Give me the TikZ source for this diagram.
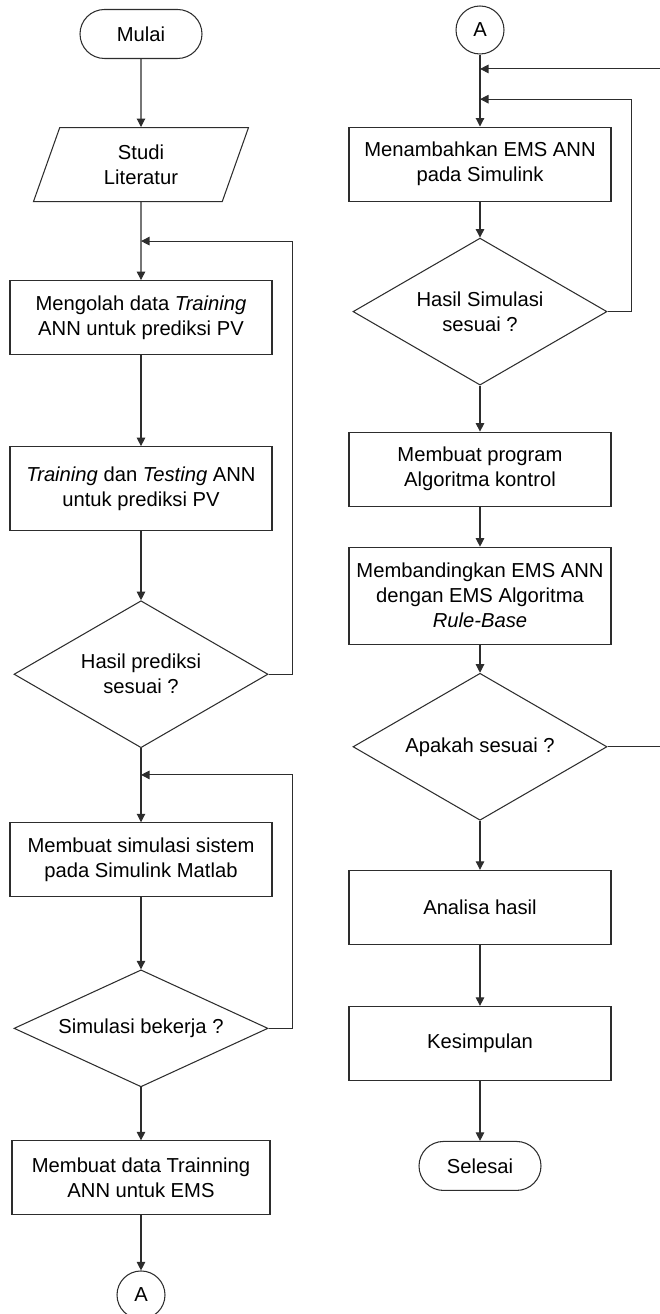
\documentclass[tikz,border=0pt]{standalone}
\usepackage{fontspec}
\setmainfont{Liberation Sans}
\usepackage{tikz}
\usetikzlibrary{shapes.geometric, arrows.meta, positioning, calc}
\definecolor{lineclr}{RGB}{45,45,45}

\begin{document}
\begin{tikzpicture}[
    font=\fontsize{11.5}{14.2}\selectfont,
    proc/.style={draw=lineclr, minimum width=5.24cm, minimum height=1.48cm,
                 align=center, inner sep=2pt},
    term/.style={draw=lineclr, rounded corners=0.49cm, minimum width=2.44cm,
                 minimum height=0.98cm},
    io/.style={draw=lineclr, trapezium, trapezium left angle=63,
               trapezium right angle=117, trapezium stretches body,
               minimum width=4.3cm, minimum height=1.48cm, align=center},
    dec/.style={draw=lineclr, diamond, aspect=1.73, minimum width=5.08cm,
                minimum height=2.94cm, inner sep=0pt, align=center},
    conn/.style={draw=lineclr, circle, minimum size=0.96cm, inner sep=0pt},
    arr/.style={-{Triangle[length=0.17cm, width=0.17cm]}, lineclr},
    line width=0.6pt,
]
    \useasboundingbox (0,0) rectangle (13.18,-26.28);

    % left column
    \node[term] (mulai) at (2.82,-0.68) {Mulai};
    \node[io, below=1.36cm of mulai] (studi) {Studi\\Literatur};
    \node[proc, below=1.56cm of studi] (olah)
        {Mengolah data \textit{Training}\\ANN untuk prediksi PV};
    \node[proc, below=1.82cm of olah, minimum height=1.68cm] (train)
        {\textit{Training} dan \textit{Testing} ANN\\untuk prediksi PV};
    \node[dec, below=1.38cm of train] (predok) {Hasil prediksi\\sesuai ?};
    \node[proc, below=1.48cm of predok] (simsys)
        {Membuat simulasi sistem\\pada Simulink Matlab};
    \node[dec, below=1.44cm of simsys, aspect=2.17, minimum height=2.34cm] (simok)
        {Simulasi bekerja ?};
    \node[proc, below=1.06cm of simok, minimum width=5.16cm] (dataems)
        {Membuat data Trainning\\ANN untuk EMS};
    \node[conn, below=1.1cm of dataems] (conA) {A};

    % right column
    \node[conn] (conB) at (9.6,-0.6) {A};
    \node[proc, below=1.44cm of conB] (addems)
        {Menambahkan EMS ANN\\pada Simulink};
    \node[dec, below=0.72cm of addems] (hasilok) {Hasil Simulasi\\sesuai ?};
    \node[proc, below=0.92cm of hasilok] (prog)
        {Membuat program\\Algoritma kontrol};
    \node[proc, below=0.8cm of prog, minimum height=1.94cm] (banding)
        {Membandingkan EMS ANN\\dengan EMS Algoritma\\\textit{Rule-Base}};
    \node[dec, below=0.56cm of banding] (apakah) {Apakah sesuai ?};
    \node[proc, below=0.98cm of apakah] (analisa) {Analisa hasil};
    \node[proc, below=1.22cm of analisa] (simpul) {Kesimpulan};
    \node[term, below=1.2cm of simpul] (selesai) {Selesai};

    % junctions
    \coordinate (j1) at ($(studi.south)!0.5!(olah.north)$);
    \coordinate (j2) at ($(predok.south)!0.36!(simsys.north)$);
    \coordinate (j3) at ($(conB.south)!0.2!(addems.north)$);
    \coordinate (j4) at ($(conB.south)!0.62!(addems.north)$);
    \coordinate (edge) at (13.3,0);

    \draw[arr] (mulai) -- (studi);
    \draw[arr] (studi) -- (olah);
    \draw[arr] (olah) -- (train);
    \draw[arr] (train) -- (predok);
    \draw[arr] (predok) -- (simsys);
    \draw[arr] (simsys) -- (simok);
    \draw[arr] (simok) -- (dataems);
    \draw[arr] (dataems) -- (conA);
    \draw[arr] (predok.east) -- ++(0.48cm,0) |- (j1);
    \draw[arr] (simok.east) -- ++(0.48cm,0) |- (j2);

    \draw[arr] (conB) -- (addems);
    \draw[arr] (addems) -- (hasilok);
    \draw[arr] (hasilok) -- (prog);
    \draw[arr] (prog) -- (banding);
    \draw[arr] (banding) -- (apakah);
    \draw[arr] (apakah) -- (analisa);
    \draw[arr] (analisa) -- (simpul);
    \draw[arr] (simpul) -- (selesai);
    \draw[arr] (hasilok.east) -- ++(0.48cm,0) |- (j4);
    \draw[arr] (apakah.east) -- (apakah.east -| edge) |- (j3);
\end{tikzpicture}
\end{document}
